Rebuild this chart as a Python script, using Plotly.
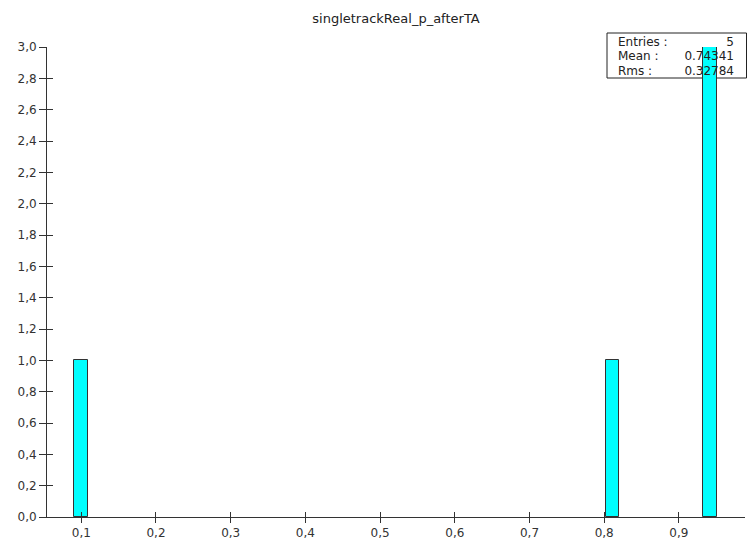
import plotly.graph_objects as go

# ---- data ----
bin_centers = [0.0992, 0.8111, 0.9417]
bin_counts = [1, 1, 3]
bin_width = 0.0187
x_tick_vals = [0.1, 0.2, 0.3, 0.4, 0.5, 0.6, 0.7, 0.8, 0.9]
x_tick_text = ["0,1", "0,2", "0,3", "0,4", "0,5", "0,6", "0,7", "0,8", "0,9"]
y_tick_vals = [0.0, 0.2, 0.4, 0.6, 0.8, 1.0, 1.2, 1.4, 1.6, 1.8, 2.0, 2.2, 2.4, 2.6, 2.8, 3.0]
y_tick_text = ["0,0", "0,2", "0,4", "0,6", "0,8", "1,0", "1,2", "1,4", "1,6", "1,8",
               "2,0", "2,2", "2,4", "2,6", "2,8", "3,0"]
stat_labels = ["Entries :", "Mean :", "Rms :"]
stat_values = ["5", "0.74341", "0.32784"]
title_text = "singletrackReal_p_afterTA"

# ---- geometry (pixels) ----
W, H = 747, 539
ML, MR, MT, MB = 47, 2, 20, 22
PLOT_TOP = 47                     # pixel row of y = 3.0
x_range = [0.0541, 0.9885]
y_range = [0.0, 3.0]
pw = W - ML - MR
ph_full = H - MT - MB
ph = H - MB - PLOT_TOP
y_dom_top = ph / ph_full

font_family = "DejaVu Sans, Verdana, sans-serif"
txt_col = "#333333"
axis_col = "#333333"

fig = go.Figure()

# invisible anchor trace so the main axes are drawn
fig.add_trace(go.Scatter(x=[0.5], y=[0.0], mode="markers", marker=dict(opacity=0),
                         hoverinfo="skip", showlegend=False, xaxis="x", yaxis="y"))

# stats text on a hidden pixel-unit subplot (drawn below the bar overlay)
rows_py = [42.5, 57, 71.5]
ys = [H - MB - p for p in rows_py]
fig.add_trace(go.Scatter(
    x=[618 - ML] * 3, y=ys, text=stat_labels, mode="text", textposition="middle right",
    textfont=dict(size=12, color="#222222", family=font_family),
    cliponaxis=False, hoverinfo="skip", showlegend=False, xaxis="x2", yaxis="y2"))
fig.add_trace(go.Scatter(
    x=[734 - ML] * 3, y=ys, text=stat_values, mode="text", textposition="middle left",
    textfont=dict(size=12, color="#222222", family=font_family),
    cliponaxis=False, hoverinfo="skip", showlegend=False, xaxis="x2", yaxis="y2"))

# histogram bars in overlay of main axes
fig.add_trace(go.Bar(
    x=bin_centers, y=bin_counts, width=bin_width,
    marker=dict(color="#00FFFF", line=dict(color="#333333", width=1)),
    showlegend=False, xaxis="x3", yaxis="y3", cliponaxis=False))

fig.add_shape(type="rect", xref="paper", yref="paper",
              x0=(607 - ML) / pw, x1=(746.5 - ML) / pw,
              y0=(H - MB - 78) / ph_full, y1=(H - MB - 33) / ph_full,
              line=dict(color="#222222", width=1), fillcolor="white", layer="below")

common_x = dict(range=x_range, tickvals=x_tick_vals, showgrid=False, zeroline=False,
                tickcolor=axis_col, tickwidth=1, domain=[0, 1], automargin=False)
common_y = dict(range=y_range, tickvals=y_tick_vals, showgrid=False, zeroline=False,
                tickcolor=axis_col, tickwidth=1, domain=[0, y_dom_top], automargin=False)

fig.update_layout(
    width=W, height=H,
    margin=dict(l=ML, r=MR, t=MT, b=MB, autoexpand=False),
    paper_bgcolor="white", plot_bgcolor="rgba(0,0,0,0)",
    title=dict(text=title_text, x=0.5, xref="paper", xanchor="center",
               y=1 - 18.5 / H, yanchor="middle",
               font=dict(size=13, color="#222222", family=font_family)),
    bargap=0,
    xaxis=dict(**common_x, ticktext=x_tick_text, ticks="outside", ticklen=5,
               showline=True, linecolor=axis_col, linewidth=1, anchor="y",
               tickfont=dict(size=12, color=txt_col, family=font_family)),
    yaxis=dict(**common_y, ticktext=y_tick_text, ticks="outside", ticklen=7,
               anchor="x",
               showline=True, linecolor=axis_col, linewidth=1,
               tickfont=dict(size=12, color=txt_col, family=font_family)),
    xaxis2=dict(range=[0, pw], domain=[0, 1], anchor="y2", visible=False, automargin=False),
    yaxis2=dict(range=[0, ph_full], domain=[0, 1], anchor="x2", visible=False, automargin=False),
    xaxis3=dict(**common_x, overlaying="x", anchor="y3", side="bottom", ticks="inside",
                ticklen=5, showticklabels=False, showline=False),
    yaxis3=dict(**common_y, overlaying="y", anchor="x3", side="left", ticks="inside",
                ticklen=6, showticklabels=False, showline=False),
)

fig.write_html("out.html", config={"displayModeBar": False},
               post_script="document.body.style.margin='0';document.body.style.overflow='hidden';")
